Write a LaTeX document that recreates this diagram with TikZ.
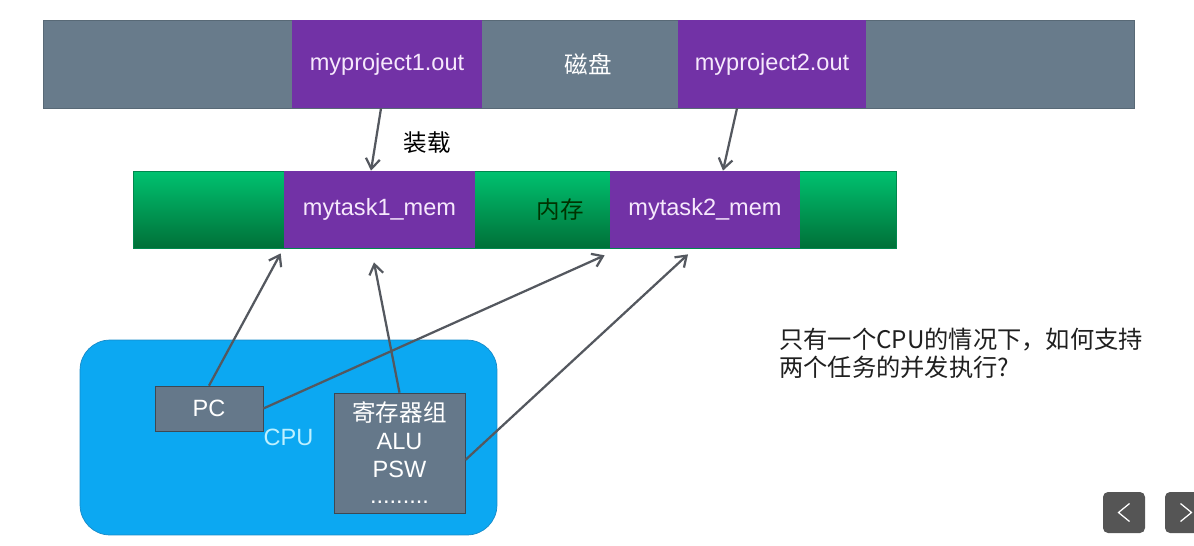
\documentclass[tikz,border=0pt]{standalone}
\usepackage{fontspec}
\setmainfont{Liberation Sans}
\newfontfamily\cjk{Noto Sans CJK SC}
\usepackage{tikz}
\usetikzlibrary{arrows.meta}
\definecolor{cDisk}{RGB}{104,123,139}
\definecolor{cTask}{RGB}{114,50,166}
\definecolor{cTaskText}{RGB}{246,232,252}
\definecolor{cMemTop}{RGB}{0,194,112}
\definecolor{cMemBot}{RGB}{0,112,56}
\definecolor{cCpu}{RGB}{12,168,242}
\definecolor{cCpuLine}{RGB}{22,138,200}
\definecolor{cCpuText}{RGB}{190,240,255}
\definecolor{cReg}{RGB}{101,120,138}
\definecolor{cWire}{RGB}{84,88,95}
\definecolor{cBtn}{RGB}{85,85,85}
\tikzset{
	diskbar/.style ={rectangle, minimum height=17.6mm, inner sep=0pt, draw=cDisk!85!black, fill=cDisk, text=white},
	membar/.style  ={rectangle, minimum height=15.4mm, inner sep=0pt, draw=cMemTop!70!black, top color=cMemTop, middle color=cMemTop!85!black, bottom color=cMemBot},
	taskbox/.style ={rectangle, inner sep=0pt, fill=cTask, text=cTaskText},
	regbox/.style  ={rectangle, inner sep=0pt, align=center, draw=cReg!60!black, fill=cReg, text=white},
	cpubox/.style  ={rectangle, rounded corners=6mm, draw=cCpuLine, fill=cCpu, text=cCpuText},
	wire/.style    ={-{Straight Barb[length=2mm, width=2.8mm]}, cWire, line width=0.45mm},
	navbtn/.style  ={rectangle, rounded corners=1mm, fill=cBtn, minimum width=8.4mm, minimum height=8.2mm},
}
\begin{document}
\begin{tikzpicture}[x=0.02cm, y=-0.02cm, font=\fontsize{13.4}{15.9}\selectfont]
	\useasboundingbox (0,0) rectangle (1194,545);
	% disk
	\node[diskbar, minimum width=218.2mm] (disk) at (588.5,64) {\cjk 磁盘};
	\node[taskbox, minimum width=38mm, minimum height=17.6mm] (p1) at (387,64) {myproject1.out};
	\node[taskbox, minimum width=37.6mm, minimum height=17.6mm] (p2) at (772,64) {myproject2.out};
	% memory
	\node[membar, minimum width=152.6mm] (mem) at (514.5,209.5) {};
	\node[taskbox, minimum width=38.2mm, minimum height=15.4mm] (t1) at (379.5,209.5) {mytask1\_mem};
	\node[taskbox, minimum width=38mm, minimum height=15.4mm] (t2) at (705,209.5) {mytask2\_mem};
	\node[text=black!80!green] (memlbl) at (560,210) {\cjk 内存};
	% loading
	\draw[wire] ([xshift=-1.2mm]p1.south) -- ([xshift=-1.7mm]t1.north);
	\draw[wire] ([xshift=-7mm]p2.south) -- ([xshift=3.6mm]t2.north);
	\node (loadlbl) at (427,143) {\cjk 装载};
	% cpu
	\node[cpubox, minimum width=83.4mm, minimum height=39mm] (cpu) at (288.5,437.5) {CPU};
	\node[regbox, minimum width=21.6mm, minimum height=9mm] (pc) at (209,408.5) {PC};
	\node[regbox, minimum width=26.2mm, minimum height=24mm] (reg) at (399.5,453) {{\cjk 寄存器组}\\ALU\\PSW\\[-1pt].........};
	\draw[wire] (pc.north) -- ([shift={(-0.6mm,-1mm)}]t1.south west);
	\draw[wire] (pc.east) -- ([shift={(-1mm,-1.4mm)}]t2.south west);
	\draw[wire] (reg.north) -- ([shift={(-1.1mm,-2.8mm)}]t1.south);
	\draw[wire] ([yshift=-1.4mm]reg.east) -- ([shift={(-3.4mm,-1.2mm)}]t2.south);
	% question
	\node[anchor=north west, align=left, inner sep=0pt, text=black!88, font=\cjk\fontsize{13.8}{15.9}\selectfont] (quest) at (779,328) {只有一个CPU的情况下，如何支持\\两个任务的并发执行?};
	% slide buttons
	\node[navbtn] (prev) at (1124,512.5) {};
	\node[navbtn] (next) at (1186,512.5) {};
	\draw[white, line width=0.25mm] ([shift={(1.1mm,1.8mm)}]prev.center) -- ([xshift=-1.1mm]prev.center) -- ([shift={(1.1mm,-1.8mm)}]prev.center);
	\draw[white, line width=0.25mm] ([shift={(-1.1mm,1.8mm)}]next.center) -- ([xshift=1.1mm]next.center) -- ([shift={(-1.1mm,-1.8mm)}]next.center);
\end{tikzpicture}
\end{document}
